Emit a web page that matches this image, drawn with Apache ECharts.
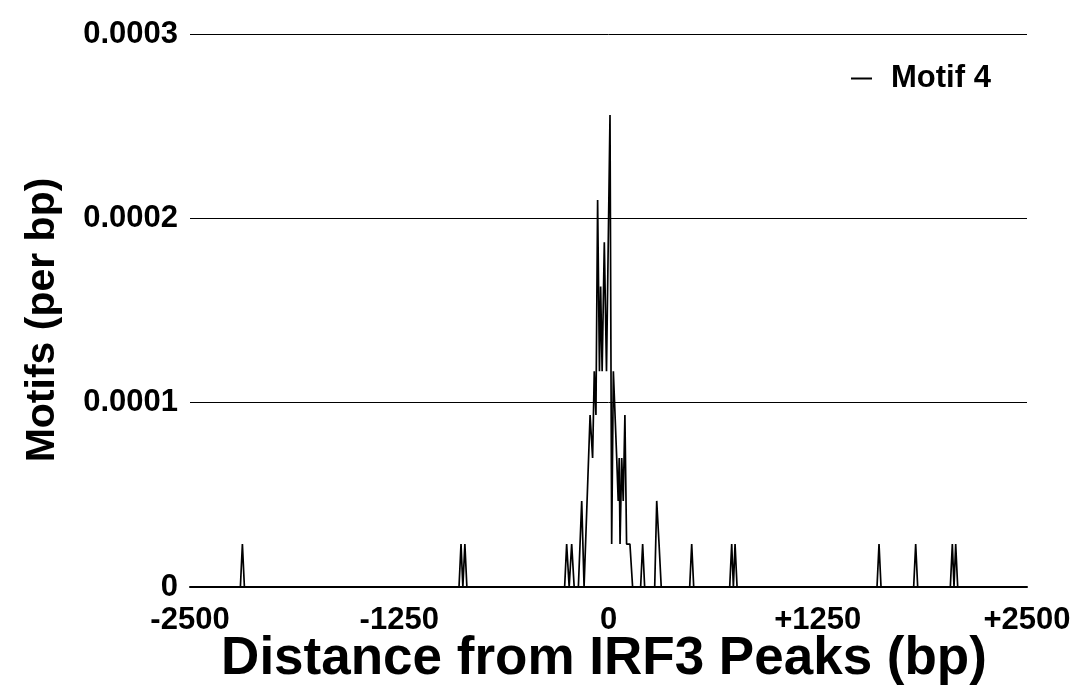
<!DOCTYPE html>
<html>
<head>
<meta charset="utf-8">
<script src="https://cdn.jsdelivr.net/npm/echarts@6/dist/echarts.min.js"></script>
<style>html,body{margin:0;padding:0;background:#fff;}#chart{width:1083px;height:685px;}</style>
</head>
<body>
<div id="chart"></div>
<script>
// Line vertices: distance (bp) and motifs per bp
const distances = [
  -2500, -2199, -2187, -2175,
  -893, -881, -870, -858, -846,
  -262, -250, -235, -220, -205,
  -180, -160, -146, -140, -110, -95, -85, -75, -65, -54, -47, -38, -25, -12,
  9, 19, 29, 49, 58, 64, 69, 79, 88, 98, 108, 128, 144,
  192, 204, 216,
  276, 288, 302, 315,
  485, 497, 509,
  724, 736, 746, 756, 768,
  1604, 1616, 1628,
  1823, 1835, 1847,
  2042, 2054, 2064, 2074, 2086,
  2500
];
const motifs4 = [
  0, 0, 0.0000233, 0,
  0, 0.0000233, 0, 0.0000233, 0,
  0, 0.0000233, 0, 0.0000233, 0,
  0, 0.0000467, 0, 0, 0.0000933, 0.00007, 0.000117, 0.0000933, 0.00021, 0.000117, 0.000163, 0.000117, 0.000187, 0.000117,
  0.000256, 0.0000233, 0.000117, 0.00007, 0.0000467, 0.00007, 0.0000233, 0.00007, 0.0000467, 0.0000933, 0.0000233, 0.0000233, 0,
  0, 0.0000233, 0,
  0, 0.0000467, 0.0000233, 0,
  0, 0.0000233, 0,
  0, 0.0000233, 0, 0.0000233, 0,
  0, 0.0000233, 0,
  0, 0.0000233, 0,
  0, 0.0000233, 0, 0.0000233, 0,
  0
];
const xTicks = { '-2500': '-2500', '-1250': '-1250', '0': '0', '1250': '+1250', '2500': '+2500' };
const yTicks = { '0': '0', '0.0001': '0.0001', '0.0002': '0.0002', '0.0003': '0.0003' };
const seriesName = 'Motif 4';
const xTitle = 'Distance from IRF3 Peaks (bp)';
const yTitle = 'Motifs (per bp)';

const FONT = '"Liberation Sans", Arial, Helvetica, sans-serif';
const chart = echarts.init(document.getElementById('chart'), null, { renderer: 'canvas' });
chart.setOption({
  animation: false,
  backgroundColor: '#ffffff',
  grid: { left: 190, right: 56, top: 34, bottom: 98, containLabel: false },
  legend: {
    show: true,
    left: 846, top: 58,
    itemWidth: 21, itemHeight: 2, itemGap: 10,
    textStyle: { fontFamily: FONT, fontWeight: 'bold', fontSize: 31, color: '#000', padding: [0, 0, 0, 14] },
    data: [{ name: seriesName, icon: 'rect', itemStyle: { color: '#000' } }]
  },
  graphic: [
    { type: 'text', x: 604, y: 659,
      style: { text: xTitle, fontFamily: FONT, fontWeight: 'bold', fontSize: 53, fill: '#000', align: 'center', verticalAlign: 'middle' } },
    { type: 'text', x: 43, y: 320, rotation: Math.PI / 2,
      style: { text: yTitle, fontFamily: FONT, fontWeight: 'bold', fontSize: 41, fill: '#000', align: 'center', verticalAlign: 'middle' } }
  ],
  xAxis: {
    type: 'value', min: -2500, max: 2500, interval: 1250,
    axisLine: { show: true, lineStyle: { color: '#000', width: 2 } },
    axisTick: { show: false },
    splitLine: { show: false },
    axisLabel: {
      margin: 18, fontFamily: FONT, fontWeight: 'bold', fontSize: 31, color: '#000',
      formatter: v => xTicks[String(v)] !== undefined ? xTicks[String(v)] : ''
    }
  },
  yAxis: {
    type: 'value', min: 0, max: 0.0003, interval: 0.0001,
    axisLine: { show: false },
    axisTick: { show: false },
    splitLine: { show: true, lineStyle: { color: '#000', width: 1 } },
    axisLabel: {
      margin: 12, fontFamily: FONT, fontWeight: 'bold', fontSize: 31, color: '#000',
      formatter: v => { const k = Number(v.toPrecision(6)).toString(); return yTicks[k] !== undefined ? yTicks[k] : (v === 0 ? '0' : v.toFixed(4)); }
    }
  },
  series: [{
    name: seriesName,
    type: 'line',
    data: distances.map((d, i) => [d, motifs4[i]]),
    showSymbol: false,
    symbol: 'none',
    lineStyle: { color: '#000', width: 1.7 },
    itemStyle: { color: '#000' }
  }]
});
</script>
</body>
</html>
